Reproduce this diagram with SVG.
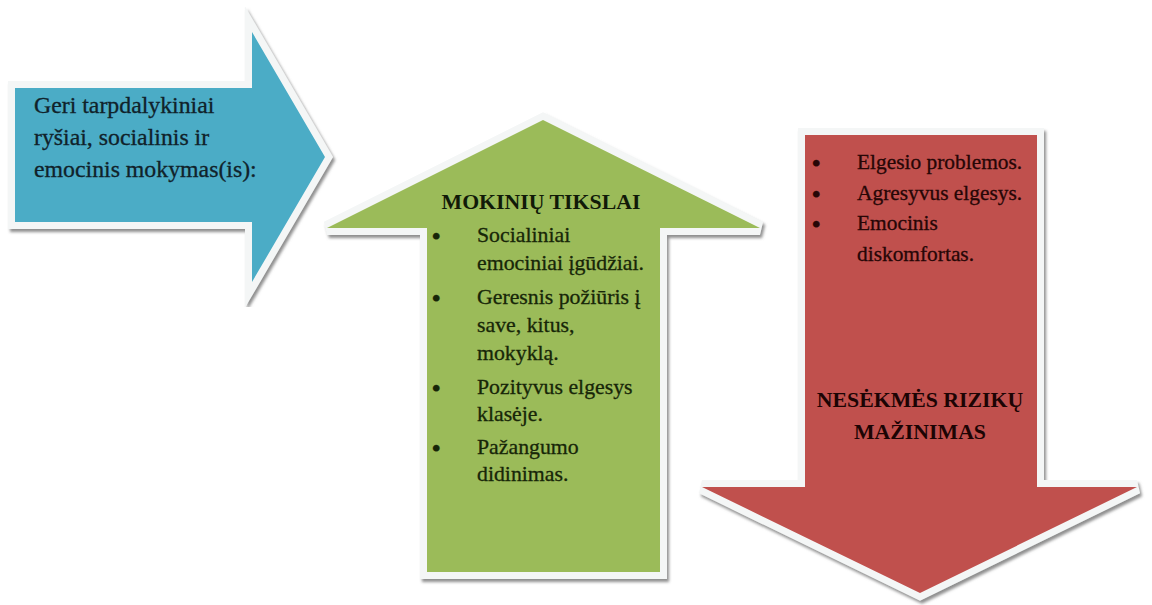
<svg xmlns="http://www.w3.org/2000/svg" width="1152" height="605" viewBox="0 0 1152 605">
<defs>
<filter id="sh" x="-10%" y="-10%" width="120%" height="120%">
<feDropShadow dx="2" dy="3" stdDeviation="1.5" flood-color="#7a7a7a" flood-opacity="0.85"/>
</filter>
<style>
.bord{fill:#f4f6f6;stroke:#f4f6f6;stroke-width:14;stroke-linejoin:miter}
.blue{fill:#4bacc6}
.green{fill:#9bbb59}
.red{fill:#c0504d}
.bul{font-size:24px;font-weight:bold}
</style>
</defs>
<rect width="1152" height="605" fill="#ffffff"/>
<g id="blue-arrow">
<g filter="url(#sh)"><polygon class="bord" points="15,88 252,88 252,32 325,157 252,282 252,222 15,222"/></g>
<polygon class="blue" points="15,88 252,88 252,32 325,157 252,282 252,222 15,222"/>
<g font-family="'Liberation Serif', 'Times New Roman', serif" font-size="23.8" fill="#10222a" stroke="#10222a" stroke-width="0.3">
<text x="34" y="113">Geri tarpdalykiniai</text>
<text x="34" y="145">ryšiai, socialinis ir</text>
<text x="34" y="177">emocinis mokymas(is):</text>
</g>
</g>
<g id="green-arrow">
<g filter="url(#sh)"><polygon class="bord" points="543,120 760,228 660,228 660,572 427,572 427,228 327,228"/></g>
<polygon class="green" points="543,120 760,228 660,228 660,572 427,572 427,228 327,228"/>
<text x="541" y="209" font-family="'Liberation Serif', 'Times New Roman', serif" font-weight="bold" font-size="21.8" text-anchor="middle" fill="#111a08">MOKINIŲ TIKSLAI</text>
<g font-family="'Liberation Serif', 'Times New Roman', serif" font-size="21.8" fill="#172608" stroke="#172608" stroke-width="0.3">
<text class="bul" x="432" y="244">•</text><text x="477" y="242">Socialiniai</text>
<text x="477" y="270">emociniai įgūdžiai.</text>
<text class="bul" x="432" y="306">•</text><text x="477" y="304">Geresnis požiūris į</text>
<text x="477" y="332">save, kitus,</text>
<text x="477" y="360">mokyklą.</text>
<text class="bul" x="432" y="396">•</text><text x="477" y="394">Pozityvus elgesys</text>
<text x="477" y="421">klasėje.</text>
<text class="bul" x="432" y="456">•</text><text x="477" y="454">Pažangumo</text>
<text x="477" y="481">didinimas.</text>
</g>
</g>
<g id="red-arrow">
<g filter="url(#sh)"><polygon class="bord" points="805,135 1037,135 1037,487 1137,487 920,593 702,487 805,487"/></g>
<polygon class="red" points="805,135 1037,135 1037,487 1137,487 920,593 702,487 805,487"/>
<g font-family="'Liberation Serif', 'Times New Roman', serif" font-size="21.4" fill="#260606" stroke="#260606" stroke-width="0.3">
<text class="bul" x="812" y="171">•</text><text x="857" y="169">Elgesio problemos.</text>
<text class="bul" x="812" y="202">•</text><text x="857" y="200">Agresyvus elgesys.</text>
<text class="bul" x="812" y="232">•</text><text x="857" y="230">Emocinis</text>
<text x="857" y="261">diskomfortas.</text>
</g>
<g font-family="'Liberation Serif', 'Times New Roman', serif" font-weight="bold" font-size="21.8" text-anchor="middle" fill="#1c0404">
<text x="920" y="407">NESĖKMĖS RIZIKŲ</text>
<text x="920" y="439">MAŽINIMAS</text>
</g>
</g>
<g id="connectors"/>
</svg>
